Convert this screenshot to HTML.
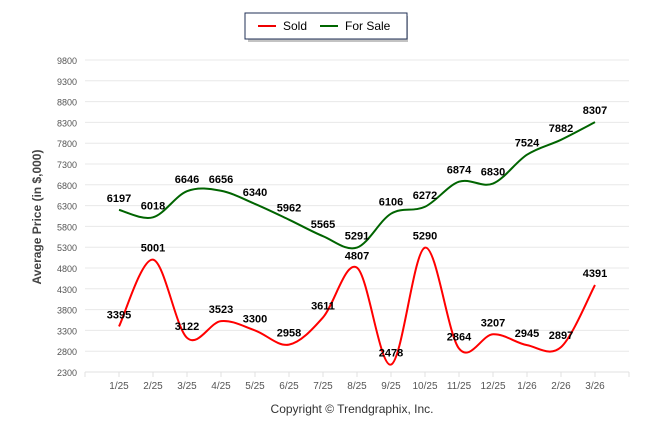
<!DOCTYPE html>
<html><head><meta charset="utf-8"><style>
body{margin:0;background:#fff;width:646px;height:434px;overflow:hidden;font-family:"Liberation Sans",sans-serif}
</style></head><body>
<svg id="chart" width="646" height="434" xmlns="http://www.w3.org/2000/svg">
<g id="legend">
<rect x="248" y="16" width="160" height="26" fill="#888" opacity="0.5"/>
<rect x="245" y="13" width="162" height="26" fill="#fff" stroke="#1f2f55" stroke-width="1"/>
<g><line x1="258" y1="26" x2="276" y2="26" stroke="#e00" stroke-width="2"/><text x="283" y="30" font-size="12" fill="#000">Sold</text></g>
<g><line x1="320" y1="26" x2="338" y2="26" stroke="#060" stroke-width="2"/><text x="345" y="30" font-size="12" fill="#000">For Sale</text></g>
</g>
<g id="grid"></g><g id="xaxis"></g><g id="series"></g><g id="labels"></g>
<text transform="translate(41,217) rotate(-90)" text-anchor="middle" font-size="12" font-weight="bold" fill="#444">Average Price (in $,000)</text>
<text x="352" y="413" text-anchor="middle" font-size="12" fill="#333">Copyright © Trendgraphix, Inc.</text>
</svg>
<script>
const categories=["1/25","2/25","3/25","4/25","5/25","6/25","7/25","8/25","9/25","10/25","11/25","12/25","1/26","2/26","3/26"];
const soldValues=[3395,5001,3122,3523,3300,2958,3611,4807,2478,5290,2864,3207,2945,2897,4391];
const forSaleValues=[6197,6018,6646,6656,6340,5962,5565,5291,6106,6272,6874,6830,7524,7882,8307];
const yTicks=[2300,2800,3300,3800,4300,4800,5300,5800,6300,6800,7300,7800,8300,8800,9300,9800];
const NS="http://www.w3.org/2000/svg";
const L=85,R=629,T=60,B=372,YMIN=2300,YMAX=9800;
const band=(R-L)/(categories.length+1);
const x=i=>L+band*(i+1);
const y=v=>B-(v-YMIN)/(YMAX-YMIN)*(B-T);
function mk(tag,a,p){const e=document.createElementNS(NS,tag);for(const k in a)e.setAttribute(k,a[k]);p.appendChild(e);return e;}
const grid=document.getElementById('grid');
yTicks.forEach(v=>{
 const l=mk('line',{x1:L,x2:R,y1:y(v),y2:y(v),stroke:'#e8e8e8','stroke-width':1},grid);
 
 
 const t=mk('text',{x:L-8,y:y(v)+4,'text-anchor':'end','font-size':9,fill:'#555'},grid);
 t.textContent=v;
 
 
});
const xa=document.getElementById('xaxis');
mk('line',{x1:L,x2:R,y1:B,y2:B,stroke:'#e0e0e0'},xa);
for(let i=0;i<=categories.length+1;i++){mk('line',{x1:L+band*i,x2:L+band*i,y1:B,y2:B+5,stroke:'#e0e0e0'},xa);}
categories.forEach((c,i)=>{
 const t=mk('text',{x:x(i),y:B+17,'text-anchor':'middle','font-size':10,fill:'#555'},xa);
 t.textContent=c;
 
 
});
function path(vals){
 const p=vals.map((v,i)=>[x(i),y(v)]);
 let d=`M${p[0][0]},${p[0][1]}`;
 for(let i=0;i<p.length-1;i++){
  const p0=p[i-1]||p[i],p1=p[i],p2=p[i+1],p3=p[i+2]||p2;
  const c1=[p1[0]+(p2[0]-p0[0])/6,p1[1]+(p2[1]-p0[1])/6];
  const c2=[p2[0]-(p3[0]-p1[0])/6,p2[1]-(p3[1]-p1[1])/6];
  d+=` C${c1[0]},${c1[1]} ${c2[0]},${c2[1]} ${p2[0]},${p2[1]}`;
 }
 return d;
}
const s=document.getElementById('series'),lb=document.getElementById('labels');
[[soldValues,'#f00','sold'],[forSaleValues,'#006400','for-sale']].forEach(([vals,col,nm])=>{
 const pe=mk('path',{d:path(vals),fill:'none',stroke:col,'stroke-width':2},s);
 
 
 vals.forEach((v,i)=>{
  const t=mk('text',{x:x(i),y:y(v)-8,'text-anchor':'middle','font-size':11,'font-weight':'bold',fill:'#000'},lb);
  t.textContent=v;
  
  
 });
});
</script>
</body></html>
